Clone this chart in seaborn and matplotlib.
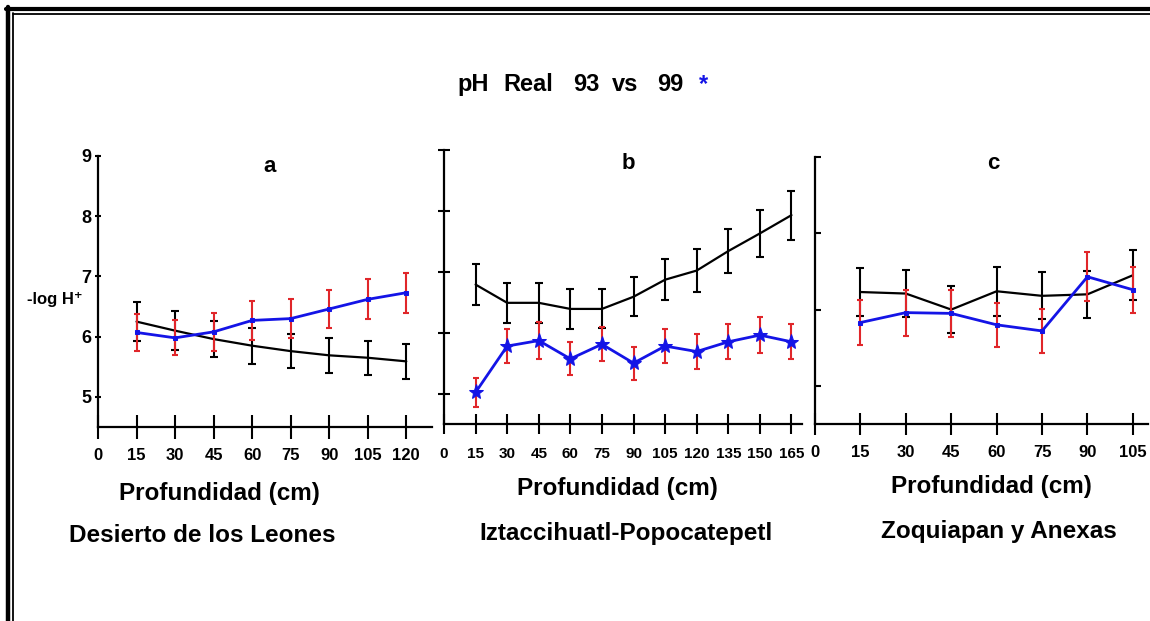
import numpy as np
import pandas as pd
import matplotlib
matplotlib.use("Agg")
import matplotlib.pyplot as plt
from matplotlib.lines import Line2D
import seaborn as sns

# profundidad (cm) y pH (-log H+): 93 = negro, 99 = azul
depth_a = [15, 30, 45, 60, 75, 90, 105, 120]
a93 = [6.25, 6.10, 5.96, 5.85, 5.76, 5.69, 5.65, 5.59]
a93_err = [0.32, 0.32, 0.30, 0.30, 0.28, 0.29, 0.28, 0.29]
a99 = [6.07, 5.98, 6.08, 6.27, 6.30, 6.46, 6.62, 6.73]
a99_err = [0.30, 0.29, 0.31, 0.32, 0.32, 0.32, 0.33, 0.33]

depth_b = [15, 30, 45, 60, 75, 90, 105, 120, 135, 150, 165]
b93 = [6.79, 6.49, 6.49, 6.39, 6.39, 6.59, 6.87, 7.02, 7.34, 7.63, 7.93]
b93_err = [0.34, 0.33, 0.33, 0.33, 0.32, 0.32, 0.34, 0.35, 0.36, 0.38, 0.40]
b99 = [5.02, 5.78, 5.87, 5.57, 5.81, 5.50, 5.78, 5.69, 5.85, 5.96, 5.85]
b99_err = [0.24, 0.28, 0.30, 0.27, 0.28, 0.27, 0.28, 0.28, 0.29, 0.29, 0.29]

depth_c = [15, 30, 45, 60, 75, 90, 105]
c93 = [6.23, 6.21, 6.00, 6.24, 6.18, 6.20, 6.45]
c93_err = [0.31, 0.31, 0.31, 0.32, 0.31, 0.31, 0.33]
c99 = [5.83, 5.96, 5.95, 5.80, 5.72, 6.43, 6.26]
c99_err = [0.29, 0.30, 0.31, 0.29, 0.29, 0.32, 0.30]

sitios = ["Desierto de los Leones", "Iztaccihuatl-Popocatepetl", "Zoquiapan y Anexas"]
letras = ["a", "b", "c"]
titulo = ["pH", "Real", "93", "vs", "99"]

sns.set_theme(style="white")
plt.rcParams["font.family"] = ["Liberation Sans", "DejaVu Sans"]
plt.rcParams["text.color"] = "black"
plt.rcParams["xtick.color"] = "black"
plt.rcParams["ytick.color"] = "black"
narrow = ["Liberation Sans Narrow", "Liberation Sans", "DejaVu Sans"]

W, H = 1150, 621
fig = plt.figure(figsize=(W / 100, H / 100), dpi=100)


def fx(px):
    return px / W


def fy(py):
    return 1 - py / H


def rect(l, r, t, b):
    return [fx(l), fy(b), (r - l) / W, (b - t) / H]


BLUE = "#1414e6"
RED = "#e0262a"

paneles = [
    dict(pos=rect(98, 432, 156, 427), xlim=(0, 130), ylim=(4.5, 9), yt=[5, 6, 7, 8, 9],
         depth=depth_a, m93=a93, e93=a93_err, m99=a99, e99=a99_err, marker="s", ms=3.5,
         xfs=12,
         ytick=dict(direction="inout", length=5, pad=2.5, labelleft=True),
         xtick=dict(length=17, pad=6.5)),
    dict(pos=rect(444, 802, 150, 424), xlim=(0, 170), ylim=(4.5, 9), yt=[5, 6, 7, 8, 9],
         depth=depth_b, m93=b93, e93=b93_err, m99=b99, e99=b99_err, marker="*", ms=11,
         xfs=11,
         ytick=dict(direction="inout", length=8.5, labelleft=False),
         xtick=dict(length=14.5, pad=9)),
    dict(pos=rect(815, 1148, 157, 424), xlim=(0, 110), ylim=(4.5, 8), yt=[5, 6, 7, 8],
         depth=depth_c, m93=c93, e93=c93_err, m99=c99, e99=c99_err, marker="s", ms=3.5,
         xfs=12,
         ytick=dict(direction="in", length=4, labelleft=False),
         xtick=dict(length=16.5, pad=7)),
]

for p in paneles:
    ax = fig.add_axes(p["pos"])
    ax.set_facecolor("none")
    # 93: linea negra con barras negras
    ax.errorbar(p["depth"], p["m93"], yerr=p["e93"], fmt="none", ecolor="black",
                elinewidth=1.5, capsize=3, capthick=1.5, zorder=2)
    sns.lineplot(x=p["depth"], y=p["m93"], ax=ax, color="black", linewidth=1.6, zorder=3)
    # 99: linea azul con barras rojas
    ax.errorbar(p["depth"], p["m99"], yerr=p["e99"], fmt="none", ecolor=RED,
                elinewidth=1.5, capsize=2.5, capthick=1.5, zorder=4)
    sns.lineplot(x=p["depth"], y=p["m99"], ax=ax, color=BLUE, linewidth=2.0,
                 marker=p["marker"], markersize=p["ms"], markeredgecolor=BLUE, zorder=5)

    ax.set_xlim(*p["xlim"])
    ax.set_ylim(*p["ylim"])
    xt = list(range(0, p["xlim"][1], 15))
    ax.set_xticks(xt)
    ax.set_xticklabels([str(v) for v in xt], family=narrow, fontweight="bold",
                       fontsize=p["xfs"])
    ax.set_yticks(p["yt"])
    ax.set_yticklabels([str(v) for v in p["yt"]], family=narrow, fontweight="bold", fontsize=13)
    ax.tick_params(axis="x", bottom=True, direction="inout", width=1.5, color="black",
                   **p["xtick"])
    ax.tick_params(axis="y", left=True, width=1.5, color="black", **p["ytick"])
    for s in ["top", "right"]:
        ax.spines[s].set_visible(False)
    for s in ["left", "bottom"]:
        ax.spines[s].set_color("black")
        ax.spines[s].set_linewidth(1.6)
    ax.set_xlabel("")
    ax.set_ylabel("")

# titulo (palabras espaciadas como en el original)
for w, x in zip(titulo, [473, 528, 586, 625, 670]):
    fig.text(fx(x), fy(91), w, fontsize=17, fontweight="bold", ha="center", va="baseline")
fig.text(fx(699), fy(91), "*", fontsize=17, fontweight="bold", color=BLUE,
         ha="left", va="baseline")

for lt, x, y in zip(letras, [270, 628, 993], [167, 163, 163]):
    fig.text(fx(x), fy(y), lt, fontsize=16, fontweight="bold", ha="center", va="center")

for x, y in zip([219, 617, 991], [500, 495, 493]):
    fig.text(fx(x), fy(y), "Profundidad (cm)", fontsize=17.5, fontweight="bold",
             ha="center", va="baseline")

for s, x, y in zip(sitios, [202, 626, 999], [542, 540, 538]):
    fig.text(fx(x), fy(y), s, fontsize=17.5, fontweight="bold", ha="center", va="baseline")

fig.text(fx(27), fy(300), "-log H\u207a", fontsize=12, fontweight="bold",
         ha="left", va="center")

# marco doble
fig.add_artist(Line2D([fx(8.3), fx(8.3)], [fy(7), 0], color="black", lw=3.2))
fig.add_artist(Line2D([fx(6.3), 1], [fy(9), fy(9)], color="black", lw=3.0))
fig.add_artist(Line2D([fx(13.4), fx(13.4)], [fy(13), 0], color="black", lw=1.3))
fig.add_artist(Line2D([fx(12.9), 1], [fy(14.2), fy(14.2)], color="black", lw=1.3))

fig.savefig("out.png", dpi=100, facecolor="white")
